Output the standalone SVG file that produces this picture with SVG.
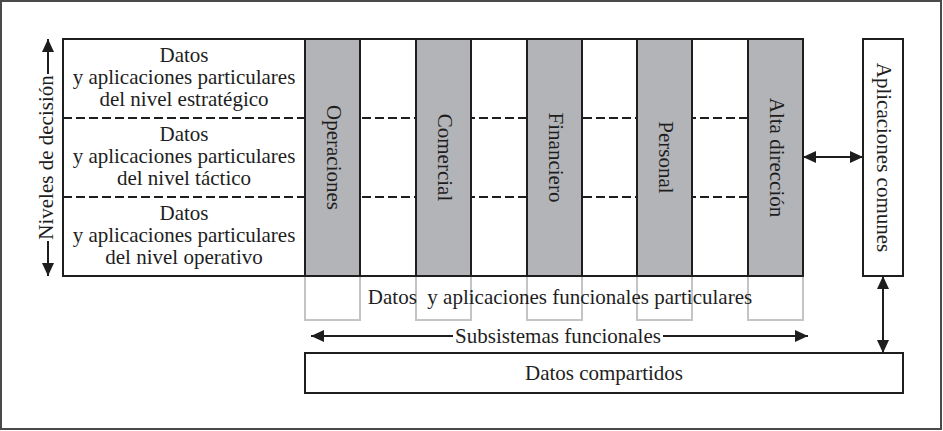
<svg xmlns="http://www.w3.org/2000/svg" width="943" height="431" viewBox="0 0 943 431">
<style>
text{font-family:"Liberation Serif","Times New Roman",serif;font-size:21px;fill:#1e1e1e;text-anchor:middle}
.frame{fill:#fff;stroke:#4a4a4a;stroke-width:2}
.box{fill:#fff;stroke:#1e1e1e;stroke-width:2}
.col{fill:#b3b4b8;stroke:#1e1e1e;stroke-width:2}
.ghost{fill:none;stroke:#c4c4c6;stroke-width:2}
.dash{stroke:#1e1e1e;stroke-width:2;stroke-dasharray:9 4;fill:none}
.conn{stroke:#1e1e1e;stroke-width:2;fill:none;marker-end:url(#ah);marker-start:url(#ah)}
.half{stroke:#1e1e1e;stroke-width:2;fill:none;marker-end:url(#ah)}
</style>
<defs>
<marker id="ah" viewBox="0 0 13 12" refX="13" refY="6" markerWidth="13" markerHeight="12" markerUnits="userSpaceOnUse" orient="auto-start-reverse">
<path d="M0,0 L13,6 L0,12 z" fill="#1e1e1e"/>
</marker>
</defs>
<rect class="frame" x="1" y="1" width="940" height="428"/>
<g id="niveles">
<rect class="box" x="63" y="39" width="740" height="237"/>
<line class="dash" x1="63" y1="118" x2="803" y2="118"/>
<line class="dash" x1="63" y1="197" x2="803" y2="197"/>
</g>
<g id="nivel-estrategico">
<text x="184" y="62">Datos</text>
<text x="184" y="84">y aplicaciones particulares</text>
<text x="184" y="106">del nivel estratégico</text>
</g>
<g id="nivel-tactico">
<text x="184" y="141">Datos</text>
<text x="184" y="163">y aplicaciones particulares</text>
<text x="184" y="185">del nivel táctico</text>
</g>
<g id="nivel-operativo">
<text x="184" y="220">Datos</text>
<text x="184" y="242">y aplicaciones particulares</text>
<text x="184" y="264">del nivel operativo</text>
</g>
<g id="funcionales">
<rect class="ghost" x="305" y="276" width="55" height="44"/>
<rect class="ghost" x="416" y="276" width="55" height="44"/>
<rect class="ghost" x="527" y="276" width="55" height="44"/>
<rect class="ghost" x="637" y="276" width="55" height="44"/>
<rect class="ghost" x="748" y="276" width="55" height="44"/>
<line x1="63" y1="276" x2="803" y2="276" stroke="#1e1e1e" stroke-width="2"/>
<text x="560" y="304">Datos&#160; y aplicaciones funcionales particulares</text>
</g>
<g id="operaciones">
<rect class="col" x="305" y="39" width="55" height="237"/>
<text transform="translate(332.5,157.5) rotate(90)" x="0" y="6">Operaciones</text>
</g>
<g id="comercial">
<rect class="col" x="416" y="39" width="55" height="237"/>
<text transform="translate(443.5,157.5) rotate(90)" x="0" y="6">Comercial</text>
</g>
<g id="financiero">
<rect class="col" x="527" y="39" width="55" height="237"/>
<text transform="translate(554.5,157.5) rotate(90)" x="0" y="6">Financiero</text>
</g>
<g id="personal">
<rect class="col" x="637" y="39" width="55" height="237"/>
<text transform="translate(664.5,157.5) rotate(90)" x="0" y="6">Personal</text>
</g>
<g id="alta-direccion">
<rect class="col" x="748" y="39" width="55" height="237"/>
<text transform="translate(775.5,157.5) rotate(90)" x="0" y="6">Alta dirección</text>
</g>
<g id="aplicaciones-comunes">
<rect class="box" x="863" y="39" width="40" height="237"/>
<text transform="translate(883,157.5) rotate(90)" x="0" y="6">Aplicaciones comunes</text>
</g>
<g id="datos-compartidos">
<rect class="box" x="305" y="353" width="598" height="40"/>
<text x="604" y="380">Datos compartidos</text>
</g>
<g id="niveles-decision">
<text transform="translate(47,157.5) rotate(-90)" x="0" y="6">Niveles de decisión</text>
</g>
<g id="subsistemas">
<text x="558" y="343">Subsistemas funcionales</text>
</g>
<g id="connectors">
<line class="conn" x1="803" y1="157" x2="863" y2="157"/>
<line class="conn" x1="883" y1="276" x2="883" y2="353"/>
<line class="half" x1="48" y1="74" x2="48" y2="39"/>
<line class="half" x1="48" y1="241" x2="48" y2="276"/>
<line class="half" x1="453" y1="336" x2="311" y2="336"/>
<line class="half" x1="663" y1="336" x2="808" y2="336"/>
</g>
</svg>
